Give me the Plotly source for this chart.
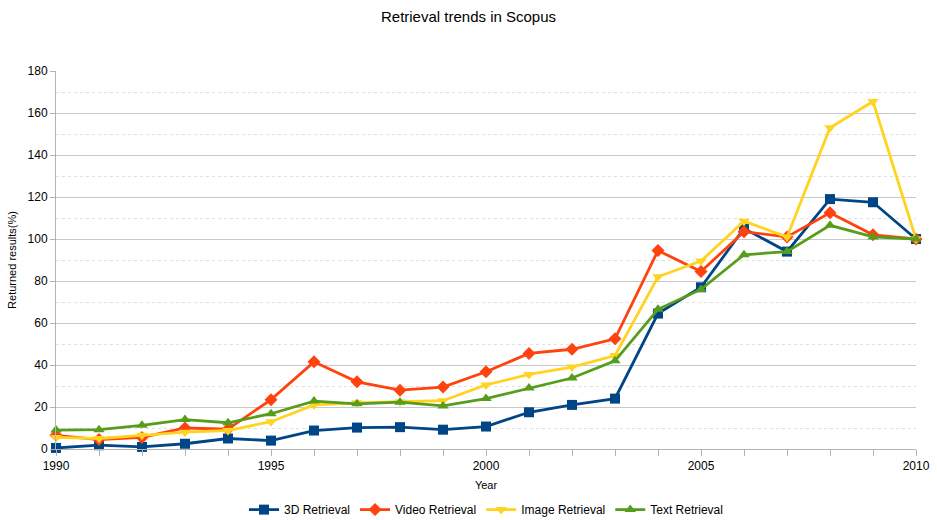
import plotly.graph_objects as go

years = list(range(1990, 2011))
retrieval_3d = [0.5, 1.8, 1.0, 2.5, 5.0, 4.0, 8.8, 10.2, 10.4, 9.2, 10.7, 17.5, 21.0, 24.0, 64.5, 77.0, 105.0, 94.0, 119.0, 117.5, 100.0]
retrieval_video = [6.5, 4.5, 5.5, 10.0, 9.5, 23.5, 41.5, 32.0, 28.0, 29.5, 36.8, 45.5, 47.5, 52.5, 94.5, 84.5, 103.5, 101.0, 112.5, 102.0, 100.0]
retrieval_image = [5.5, 5.0, 6.5, 8.0, 8.8, 13.0, 21.0, 22.0, 22.5, 23.0, 30.5, 35.5, 39.0, 44.5, 82.0, 89.5, 108.5, 101.0, 153.0, 165.5, 100.0]
retrieval_text = [9.0, 9.2, 11.3, 14.0, 12.5, 16.8, 22.8, 21.5, 22.3, 20.5, 24.0, 29.0, 33.8, 42.0, 66.5, 76.0, 92.5, 94.0, 106.5, 101.0, 100.0]

series = [
    ("3D Retrieval", retrieval_3d, "#004586", "square"),
    ("Video Retrieval", retrieval_video, "#ff420e", "diamond"),
    ("Image Retrieval", retrieval_image, "#ffd320", "triangle-down"),
    ("Text Retrieval", retrieval_text, "#579d1c", "triangle-up"),
]

fig = go.Figure()
for name, vals, color, sym in series:
    fig.add_trace(go.Scatter(
        x=years, y=vals, name=name, mode="lines+markers",
        line=dict(color=color, width=2.8),
        marker=dict(color=color, symbol=sym, size=10),
        cliponaxis=False,
    ))

font = "Liberation Sans"
fig.update_layout(
    width=937, height=520,
    margin=dict(l=56, r=21, t=71, b=71, autoexpand=False),
    paper_bgcolor="white", plot_bgcolor="white",
    font=dict(family=font, size=12, color="#000000"),
    title=dict(text="Retrieval trends in Scopus", x=0.5, xanchor="center",
               y=0.968, yanchor="middle", font=dict(size=15, family=font)),
    showlegend=True,
    legend=dict(orientation="h", x=0.5, xanchor="center", yref="container",
                y=0.02, yanchor="middle",
                font=dict(size=12), tracegroupgap=0),
)
fig.update_xaxes(
    range=[1990, 2010], dtick=5, tick0=1990, automargin=False,
    showgrid=False, showline=True, linecolor="#b3b3b3", linewidth=1,
    ticks="outside", ticklen=6, tickcolor="#b3b3b3",
    minor=dict(dtick=1, ticks="outside", ticklen=6, tickcolor="#b3b3b3", showgrid=False),
    title=dict(text="Year", font=dict(size=11), standoff=8),
    zeroline=False,
)
fig.update_yaxes(
    range=[0, 180], dtick=20, automargin=False,
    showgrid=True, gridcolor="#c8c8c8", gridwidth=1,
    showline=True, linecolor="#b3b3b3", linewidth=1,
    ticks="outside", ticklen=5, tickcolor="#b3b3b3",
    minor=dict(dtick=10, showgrid=True, gridcolor="#e0e0e0", griddash="dot", ticks=""),
    title=dict(text="Returned results(%)", font=dict(size=11), standoff=8),
    zeroline=False,
)
fig.write_html("out.html", config={"displayModeBar": False},
               post_script="document.body.style.margin='0';document.body.style.overflow='hidden';")
